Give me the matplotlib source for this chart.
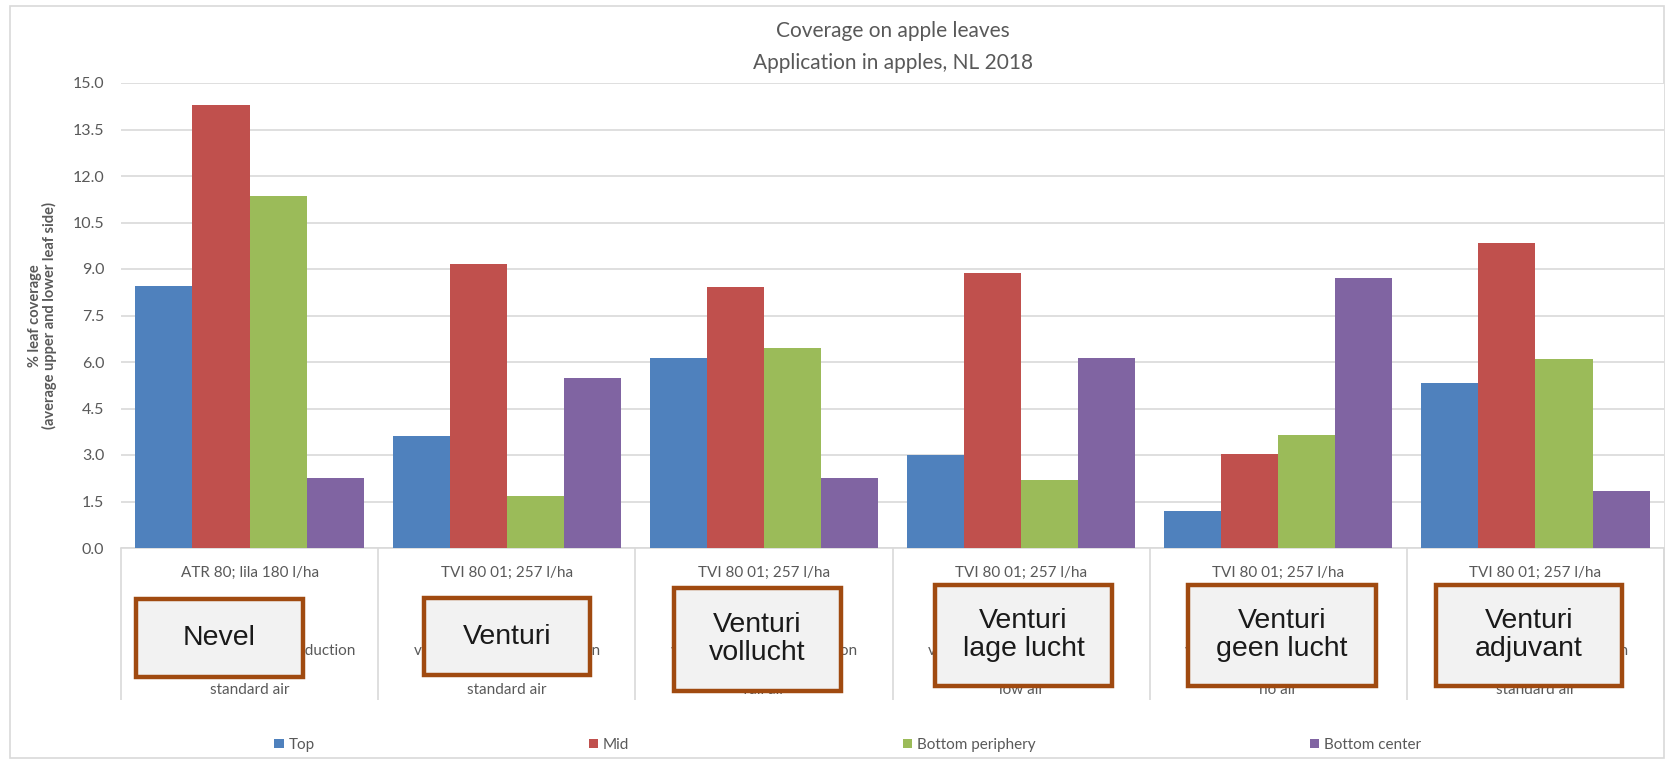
import numpy as np
import matplotlib
matplotlib.use("Agg")
import matplotlib.pyplot as plt
from matplotlib import font_manager
from matplotlib.patches import Rectangle

# ---------------- data ----------------
nozzle_lines = ["ATR 80; lila 180 l/ha", "TVI 80 01; 257 l/ha", "TVI 80 01; 257 l/ha",
                "TVI 80 01; 257 l/ha", "TVI 80 01; 257 l/ha", "TVI 80 01; 257 l/ha"]
reduction_lines = ["conventional; no drift reduction", "venturi; 90% drift reduction",
                   "venturi; 90% drift reduction", "venturi; 90% drift reduction",
                   "venturi; 90% drift reduction", "venturi; 90% drift reduction"]
air_lines = ["standard air", "standard air", "full air", "low air", "no air", "standard air"]
box_labels = ["Nevel", "Venturi", "Venturi\nvollucht", "Venturi\nlage lucht",
              "Venturi\ngeen lucht", "Venturi\nadjuvant"]

series_names = ["Top", "Mid", "Bottom periphery", "Bottom center"]
top = [8.44, 3.60, 6.14, 2.99, 1.20, 5.32]
mid = [14.28, 9.17, 8.41, 8.86, 3.02, 9.85]
bottom_periphery = [11.36, 1.68, 6.45, 2.20, 3.64, 6.11]
bottom_center = [2.27, 5.49, 2.27, 6.14, 8.72, 1.85]
yticks = [0.0, 1.5, 3.0, 4.5, 6.0, 7.5, 9.0, 10.5, 12.0, 13.5, 15.0]

colors = ["#4F81BD", "#C0504D", "#9BBB59", "#8064A2"]

# ---------------- fonts ----------------
available = {f.name for f in font_manager.fontManager.ttflist}
base = "Lato" if "Lato" in available else "DejaVu Sans"
plt.rcParams['font.family'] = [base, 'DejaVu Sans']
TXT = "#595959"
GRID = "#D9D9D9"

W, H = 1669, 760
fig = plt.figure(figsize=(W / 100, H / 100), dpi=100)

def fx(px):
    return px / W

def fy(py):
    return 1 - py / H

ax_left, ax_right, ax_top, ax_bot = 121, 1664, 83, 548
ax = fig.add_axes([fx(ax_left), fy(ax_bot), (ax_right - ax_left) / W, (ax_bot - ax_top) / H])

x = np.arange(len(top))
bw = 0.222
all_series = [top, mid, bottom_periphery, bottom_center]
handles = []
for i, (vals, name, c) in enumerate(zip(all_series, series_names, colors)):
    h = ax.bar(x + (i - 1.5) * bw, vals, width=bw, color=c, label=name, zorder=3)
    handles.append(h)

ax.set_xlim(-0.5, len(top) - 0.5)
ax.set_ylim(0, 15)
ax.set_yticks(yticks)
ax.set_yticklabels([f"{v:.1f}" for v in yticks], fontsize=11.5, color=TXT)
ax.yaxis.grid(True, color=GRID, lw=1.2, zorder=0)
ax.set_axisbelow(True)
for s in ["top", "right", "left"]:
    ax.spines[s].set_visible(False)
ax.spines["bottom"].set_color(GRID)
ax.spines["bottom"].set_linewidth(1.2)
ax.tick_params(axis="both", length=0)
ax.tick_params(axis="y", pad=12)

xlabels = [f"{a}\n \n{b}\n{c}" for a, b, c in zip(nozzle_lines, reduction_lines, air_lines)]
ax.set_xticks(x)
ax.set_xticklabels(xlabels, fontsize=11, color=TXT, linespacing=3.27, va="top")
ax.tick_params(axis="x", pad=13)

# category separators below the axis
bounds = np.arange(len(top) + 1) - 0.5
ax.vlines(bounds, 0, -(700 - ax_bot) / (ax_bot - ax_top), transform=ax.get_xaxis_transform(),
          colors=GRID, lw=1.2, clip_on=False)

ax.set_ylabel("% leaf coverage\n(average upper and lower leaf side)", fontsize=10.5,
              fontweight="bold", color=TXT, labelpad=11, linespacing=1.05)

ax.set_title("Coverage on apple leaves\nApplication in apples, NL 2018", fontsize=15,
             color=TXT, linespacing=1.73, pad=10)

# legend
fig.legend(handles=handles, labels=series_names, loc="center", bbox_to_anchor=(0.508, fy(745)),
           ncol=4, frameon=False, fontsize=11, handlelength=0.6, handleheight=0.6,
           handletextpad=0.35, columnspacing=17.9, labelcolor=TXT)

# overlay boxes (pixels, full image)
boxes = [(136, 599, 303, 677), (424, 598, 590, 675), (674, 588, 841, 691),
         (935, 585, 1112, 686), (1188, 585, 1376, 686), (1436, 585, 1622, 686)]
for (x0, y0, x1, y1), lab in zip(boxes, box_labels):
    r = Rectangle((fx(x0), fy(y1)), fx(x1 - x0), (y1 - y0) / H, transform=fig.transFigure,
                  facecolor="#F2F2F2", edgecolor="#A04A10", lw=3.2, zorder=10)
    fig.add_artist(r)
    fig.text(fx((x0 + x1) / 2), fy((y0 + y1) / 2), lab, ha="center", va="center",
             fontsize=20.5, family=["Liberation Sans", "DejaVu Sans"], color="#1A1A1A",
             linespacing=1.1, zorder=11)

# outer chart border
fig.add_artist(Rectangle((fx(10), fy(758)), fx(1664 - 10), (758 - 6) / H, transform=fig.transFigure,
                         facecolor="none", edgecolor=GRID, lw=1.2, zorder=0))

fig.savefig("out.png", dpi=100)
